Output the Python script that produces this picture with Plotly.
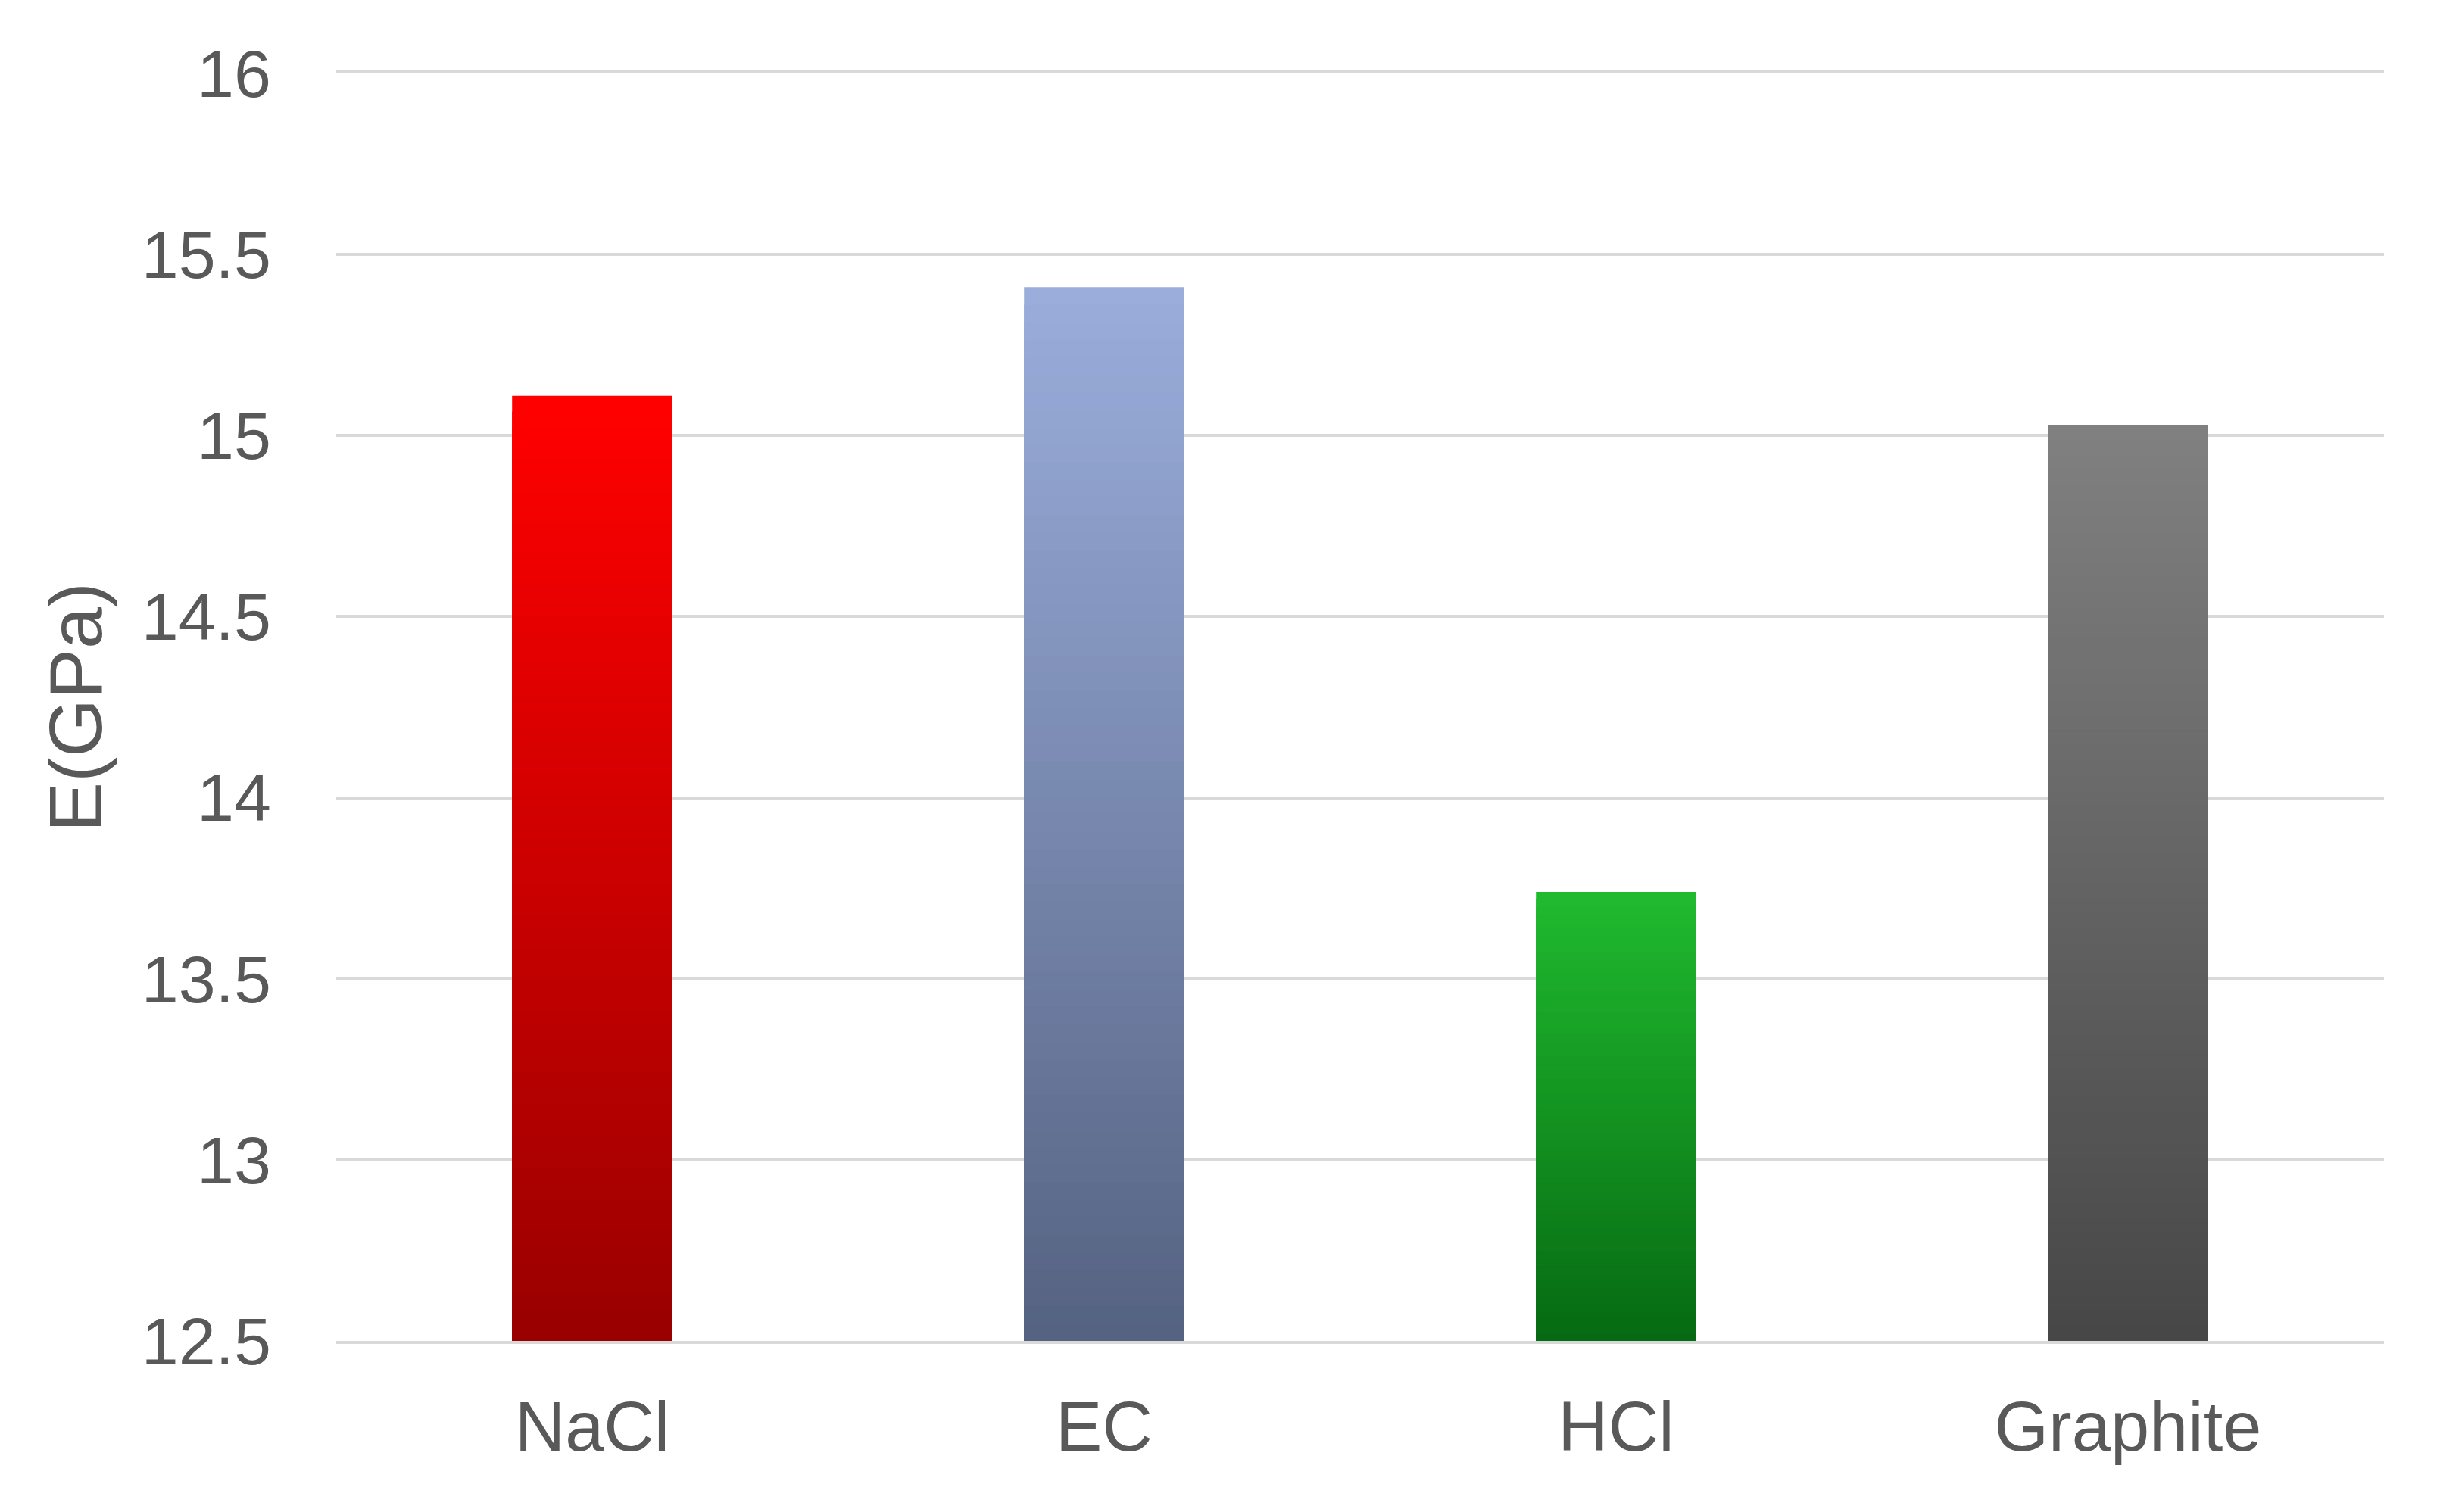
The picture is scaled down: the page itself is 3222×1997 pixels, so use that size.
import plotly.graph_objects as go

# Young's modulus per treatment
materials = ['NaCl', 'EC', 'HCl', 'Graphite']
modulus = [15.11, 15.41, 13.74, 15.03]

# top / bottom colours of the vertical gradient on each bar
top_colors = ['#FF0000', '#9AADDB', '#20BA2F', '#808080']
bottom_colors = ['#980000', '#546180', '#066912', '#464646']

y_min, y_max = 12.5, 16

def hex_to_rgb(h):
    h = h.lstrip('#')
    return [int(h[i:i + 2], 16) for i in (0, 2, 4)]

def mix(c1, c2, t):
    a, b = hex_to_rgb(c1), hex_to_rgb(c2)
    return 'rgb(%d,%d,%d)' % tuple(round(a[i] + (b[i] - a[i]) * t) for i in range(3))

fig = go.Figure()

# fake a gradient: draw full bar, then progressively shorter and darker bars on top
steps = 60
for k in range(steps):
    frac = k / steps
    heights = [(v - y_min) * (1 - frac) for v in modulus]
    colors = [mix(top_colors[i], bottom_colors[i], frac) for i in range(len(materials))]
    fig.add_trace(go.Bar(
        x=materials, y=heights, base=y_min,
        marker=dict(color=colors, line=dict(width=0)),
        width=0.313, showlegend=False, hoverinfo='skip'))

family = 'Liberation Sans, Arial, sans-serif'
grey = '#595959'

fig.update_layout(
    width=3222, height=1997,
    barmode='overlay',
    plot_bgcolor='white', paper_bgcolor='white',
    margin=dict(l=436, r=82, t=89, b=234),
    font=dict(family=family, color=grey),
)
fig.update_xaxes(
    showgrid=False, showline=True, mirror=True, linecolor='#D9D9D9', linewidth=4,
    ticks='', ticklabelstandoff=31,
    tickfont=dict(family=family, size=92, color=grey),
)
fig.update_yaxes(
    range=[y_min, y_max], dtick=0.5, tick0=12.5,
    showgrid=True, gridcolor='#D9D9D9', gridwidth=4,
    zeroline=False, showline=False, ticks='',
    ticklabelstandoff=85,
    tickfont=dict(family=family, size=88, color=grey),
    title=dict(text='E(GPa)', font=dict(family=family, size=99, color=grey), standoff=19),
)

fig.write_html('out.html')
